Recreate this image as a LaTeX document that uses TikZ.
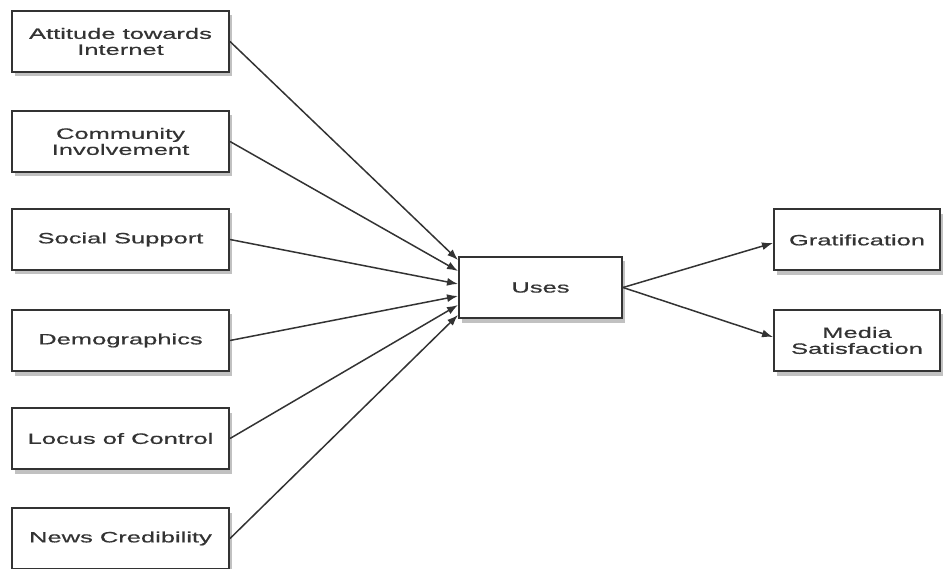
\documentclass[tikz,border=0pt]{standalone}
\usepackage{fontspec}
\setmainfont[FakeStretch=1.7, FakeBold=0.6]{Liberation Sans}
\usepackage{xcolor}
\usetikzlibrary{arrows.meta, positioning, shadows}

\definecolor{boxline}{HTML}{333333}

\begin{document}
\begin{tikzpicture}[x=1pt, y=1pt,
    factor/.style={draw=boxline, line width=2pt, fill=white, minimum width=217pt, minimum height=61pt, inner sep=0pt, align=center, font=\fontsize{15}{16}\selectfont, text=boxline, drop shadow={shadow xshift=2.5pt, shadow yshift=-4.5pt, opacity=0.35, fill=black!70}},
    link/.style={-{Latex[length=11pt,width=8pt]}, draw=boxline, line width=1.5pt}]
    \useasboundingbox (0,0) rectangle (952,568);
    \node[factor] (attitude) at (120.5,526.5) {Attitude towards\\Internet};
    \node[factor] (community) at (120.5,426.5) {Community\\Involvement};
    \node[factor] (social) at (120.5,328.5) {Social Support};
    \node[factor] (demo) at (120.5,227.5) {Demographics};
    \node[factor] (locus) at (120.5,129.5) {Locus of Control};
    \node[factor] (news) at (120.5,29.5) {News Credibility};
    \node[factor, minimum width=163pt] (uses) at (540.5,280.5) {Uses};
    \node[factor, minimum width=166pt] (grat) at (857,328) {Gratification};
    \node[factor, minimum width=166pt] (media) at (857,227.5) {Media\\Satisfaction};
    \draw[link] (attitude.east) -- ([yshift=27.5pt]uses.west);
    \draw[link] (community.east) -- ([yshift=16.5pt]uses.west);
    \draw[link] (social.east) -- ([yshift=3.5pt]uses.west);
    \draw[link] (demo.east) -- ([yshift=-8.5pt]uses.west);
    \draw[link] (locus.east) -- ([yshift=-17.5pt]uses.west);
    \draw[link] (news.east) -- ([yshift=-27.5pt]uses.west);
    \draw[link] (uses.east) -- ([yshift=-3pt]grat.west);
    \draw[link] (uses.east) -- ([yshift=3.5pt]media.west);
\end{tikzpicture}
\end{document}
